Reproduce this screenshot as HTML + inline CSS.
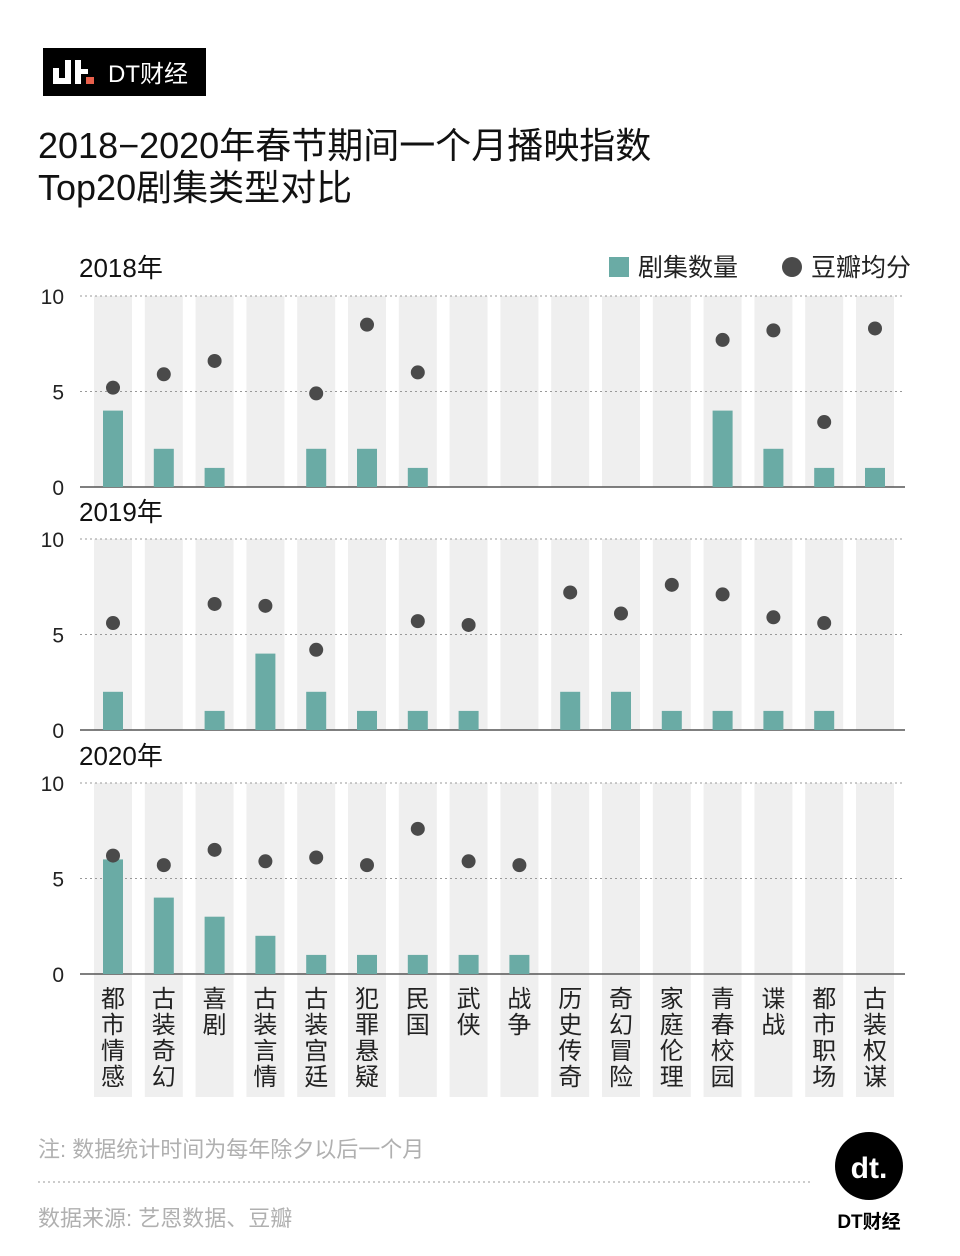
<!DOCTYPE html>
<html><head><meta charset="utf-8"><style>
body{margin:0;background:#fff;}
svg text{font-family:"Liberation Sans","Noto Sans CJK SC",sans-serif;}
</style></head><body>
<svg id="c" width="960" height="1251" xmlns="http://www.w3.org/2000/svg">
<rect width="960" height="1251" fill="#fff"/>
<g>
<rect x="43" y="48" width="163" height="48" fill="#000"/>
<rect x="53" y="68" width="6" height="16" fill="#fff"/><rect x="53" y="78" width="18" height="6" fill="#fff"/><rect x="65" y="60" width="6" height="24" fill="#fff"/>
<rect x="75" y="60" width="6" height="24" fill="#fff"/><rect x="75" y="69" width="13" height="5" fill="#fff"/><rect x="86" y="77" width="8" height="7" fill="#e8604c"/>
<text x="108" y="82" font-size="24" fill="#fff">DT财经</text>
</g>
<text x="38" y="158" font-size="36" fill="#111">2018−2020年春节期间一个月播映指数</text>
<text x="38" y="200" font-size="36" fill="#111">Top20剧集类型对比</text>
<g>
<rect x="609" y="257" width="20" height="20" fill="#6aaba5"/>
<text x="638" y="276" font-size="25" fill="#222">剧集数量</text>
<circle cx="792" cy="267" r="10" fill="#4a4a4a"/>
<text x="811" y="276" font-size="25" fill="#222">豆瓣均分</text>
</g>
<g id="plot"></g>
<text x="38" y="1157" font-size="22" fill="#b0b0b0">注: 数据统计时间为每年除夕以后一个月</text>
<line x1="38" y1="1182" x2="812" y2="1182" stroke="#999" stroke-dasharray="2,3"/>
<text x="38" y="1226" font-size="22" fill="#b0b0b0">数据来源: 艺恩数据、豆瓣</text>
<circle cx="869" cy="1166" r="34" fill="#000"/>
<text x="869" y="1178" font-size="30" font-weight="bold" fill="#fff" text-anchor="middle">dt.</text>
<text x="869" y="1228" font-size="19" font-weight="bold" fill="#000" text-anchor="middle">DT财经</text>
</svg>
<script>
const categories=["都市情感","古装奇幻","喜剧","古装言情","古装宫廷","犯罪悬疑","民国","武侠","战争","历史传奇","奇幻冒险","家庭伦理","青春校园","谍战","都市职场","古装权谋"];
const years=["2018年","2019年","2020年"];
const counts2018=[4,2,1,0,2,2,1,0,0,0,0,0,4,2,1,1];
const scores2018=[5.2,5.9,6.6,null,4.9,8.5,6.0,null,null,null,null,null,7.7,8.2,3.4,8.3];
const counts2019=[2,0,1,4,2,1,1,1,0,2,2,1,1,1,1,0];
const scores2019=[5.6,null,6.6,6.5,4.2,null,5.7,5.5,null,7.2,6.1,7.6,7.1,5.9,5.6,null];
const counts2020=[6,4,3,2,1,1,1,1,1,0,0,0,0,0,0,0];
const scores2020=[6.2,5.7,6.5,5.9,6.1,5.7,7.6,5.9,5.7,null,null,null,null,null,null,null];
const yTicks=[0,5,10];
const counts=[counts2018,counts2019,counts2020];
const scores=[scores2018,scores2019,scores2020];
const NS="http://www.w3.org/2000/svg";
const g=document.getElementById('plot');
function mk(t,a,p){const e=document.createElementNS(NS,t);for(const k in a)e.setAttribute(k,a[k]);(p||g).appendChild(e);return e;}
const base=[487,730,974];const unit=19.1;
const xC=i=>113+i*50.8;
function yS(p,v){return base[p]-v*unit;}
for(let p=0;p<3;p++){
  categories.forEach((c,i)=>{
    const h=p==2?1097-yS(p,10):base[p]-yS(p,10);
    const b=mk('rect',{x:xC(i)-19,y:yS(p,10),width:38,height:h,fill:'#efefef'});
    
    
  });
  yTicks.forEach(t=>{
    const y=yS(p,t);
    const l=mk('line',{x1:80,x2:905,y1:y,y2:y,stroke:t==0?'#555':'#999','stroke-dasharray':t==0?'':'2,3','stroke-width':t==0?1.5:1});
    
    
    const tx=mk('text',{x:64,y:y+8,'font-size':21,fill:'#222','text-anchor':'end'});
    tx.textContent=t;
    
    
  });
  const yl=mk('text',{x:79,y:[277,521,765][p],'font-size':26,fill:'#111'});
  yl.textContent=years[p];
  
  
  counts[p].forEach((v,i)=>{
    if(!v)return;
    const r=mk('rect',{x:xC(i)-10,y:yS(p,v),width:20,height:v*unit,fill:'#6aaba5'});
    
    
  });
  scores[p].forEach((v,i)=>{
    if(v==null)return;
    const d=mk('circle',{cx:xC(i),cy:yS(p,v),r:7,fill:'#4a4a4a'});
    
    
  });
}
categories.forEach((c,i)=>{
  [...c].forEach((ch,k)=>{
    const t=mk('text',{x:xC(i),y:1007+k*26,'font-size':24,fill:'#222','text-anchor':'middle'});
    t.textContent=ch;
    
    
  });
});
</script>
</body></html>
